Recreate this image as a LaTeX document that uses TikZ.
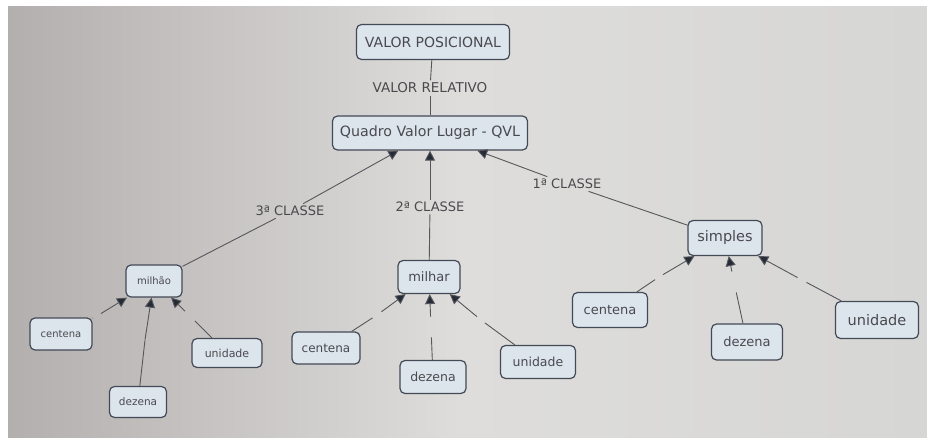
\documentclass[tikz,border=0pt]{standalone}
\usepackage{fontspec}
\setmainfont{DejaVu Sans}
\usetikzlibrary{arrows.meta}
\definecolor{cfill}{HTML}{DCE4EC}
\definecolor{cborder}{HTML}{434955}
\definecolor{ctext}{HTML}{4A4A4E}
\definecolor{cline}{HTML}{55575C}
\definecolor{ctip}{HTML}{262B38}
\definecolor{cbgl}{HTML}{B3AFAE}
\definecolor{cbgr}{HTML}{D6D6D5}
\definecolor{cbgm}{HTML}{DEDDDB}
\begin{document}
\begin{tikzpicture}[x=1pt,y=-1pt, line width=0.9pt, every edge/.style={draw=cline},
    >={Triangle[width=10pt,length=10pt,fill=ctip]}]
    \tikzset{conc/.style={draw=cborder,fill=cfill,rounded corners=5pt,text=ctext,inner sep=0pt,line width=1.2pt}};
    \tikzset{lnk/.style={text=ctext,inner sep=2pt}};
    \tikzset{gap/.style={inner sep=0pt,minimum size=#1}, gap/.default=7pt};
    % background
    \useasboundingbox (0,0) rectangle (927,438);
    \fill[white] (0,0) rectangle (927,438);
    \shade[left color=cbgl,right color=cbgm] (8,7) rectangle (460,438);
    \shade[left color=cbgm,right color=cbgr] (460,7) rectangle (927,438);
    % concepts
    \node[conc,minimum width=153pt,minimum height=35pt,font=\fontsize{14}{16}\selectfont] (vp) at (433,42) {VALOR POSICIONAL};
    \node[lnk,font=\fontsize{13.5}{15}\selectfont] (vr) at (430,88) {VALOR RELATIVO};
    \node[conc,minimum width=195pt,minimum height=34pt,font=\fontsize{14.2}{16}\selectfont] (qvl) at (430,133) {Quadro Valor Lugar - QVL};
    \node[lnk,font=\fontsize{13}{15}\selectfont] (c3) at (290,211) {3ª CLASSE};
    \node[lnk,font=\fontsize{13}{15}\selectfont] (c2) at (430,207) {2ª CLASSE};
    \node[lnk,font=\fontsize{13}{15}\selectfont] (c1) at (567,184) {1ª CLASSE};
    \node[conc,minimum width=56pt,minimum height=32pt,font=\fontsize{10}{12}\selectfont] (milhao) at (154,281) {milhão};
    \node[conc,minimum width=62pt,minimum height=33pt,font=\fontsize{13}{15}\selectfont] (milhar) at (429,277) {milhar};
    \node[conc,minimum width=74pt,minimum height=35pt,font=\fontsize{14.5}{16}\selectfont] (simples) at (725,238) {simples};
    % 3a classe
    \node[conc,minimum width=62pt,minimum height=32pt,font=\fontsize{10}{12}\selectfont] (mcen) at (61,334) {centena};
    \node[conc,minimum width=57pt,minimum height=31pt,font=\fontsize{10.5}{12}\selectfont] (mdez) at (138,402) {dezena};
    \node[conc,minimum width=70pt,minimum height=29pt,font=\fontsize{11}{13}\selectfont] (muni) at (227,353) {unidade};
    % 2a classe
    \node[conc,minimum width=68pt,minimum height=32pt,font=\fontsize{12}{14}\selectfont] (hcen) at (326,348) {centena};
    \node[conc,minimum width=66pt,minimum height=33pt,font=\fontsize{12.5}{14}\selectfont] (hdez) at (433,377) {dezena};
    \node[conc,minimum width=75pt,minimum height=33pt,font=\fontsize{12.5}{14}\selectfont] (huni) at (538,362) {unidade};
    % 1a classe
    \node[conc,minimum width=75pt,minimum height=35pt,font=\fontsize{13}{15}\selectfont] (scen) at (610,310) {centena};
    \node[conc,minimum width=71pt,minimum height=36pt,font=\fontsize{13}{15}\selectfont] (sdez) at (747,342) {dezena};
    \node[conc,minimum width=83pt,minimum height=37pt,font=\fontsize{14.5}{16}\selectfont] (suni) at (877,320) {unidade};
    % empty linking phrases
    \node[gap] (g1) at (97,316) {};
    \node[gap=0pt] (g2) at (145,340) {};
    \node[gap=9pt] (g3) at (190,316) {};
    \node[gap=8pt] (g4) at (377,315) {};
    \node[gap=20pt] (g5) at (431,327) {};
    \node[gap=7pt] (g6) at (481,320) {};
    \node[gap=7pt] (g7) at (659,277) {};
    \node[gap=20pt] (g8) at (734,282) {};
    \node[gap=8pt] (g9) at (802,280) {};
    {
      \path
        (vp) edge (vr)
        (vr) edge (qvl)
        (milhao) edge (c3)
        (c3) edge[->] (qvl)
        (milhar) edge (c2)
        (c2) edge[->] (qvl)
        (simples) edge (c1)
        (c1) edge[->] (qvl)
        (mcen) edge (g1) (g1) edge[->] (milhao)
        (mdez) edge (g2) (g2) edge[->] (milhao)
        (muni) edge (g3) (g3) edge[->] (milhao)
        (hcen) edge (g4) (g4) edge[->] (milhar)
        (hdez) edge (g5) (g5) edge[->] (milhar)
        (huni) edge (g6) (g6) edge[->] (milhar)
        (scen) edge (g7) (g7) edge[->] (simples)
        (sdez) edge (g8) (g8) edge[->] (simples)
        (suni) edge (g9) (g9) edge[->] (simples)
        ;
    }
\end{tikzpicture}
\end{document}
